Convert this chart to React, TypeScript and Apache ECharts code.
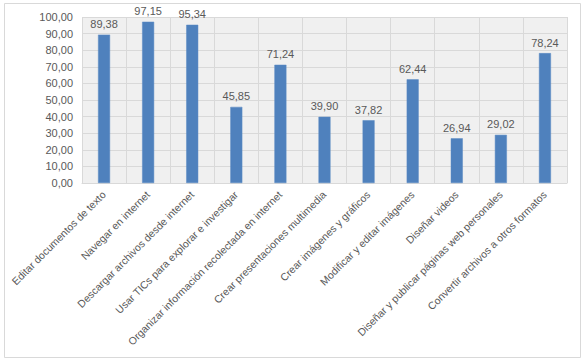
import React, { useEffect, useRef } from "react";
import * as echarts from "echarts";

const categories = [
  "Editar documentos de texto",
  "Navegar en internet",
  "Descargar archivos desde internet",
  "Usar TICs para explorar e investigar",
  "Organizar información recolectada en internet",
  "Crear presentaciones multimedia",
  "Crear imágenes y gráficos",
  "Modificar y editar imágenes",
  "Diseñar videos",
  "Diseñar y publicar páginas web personales",
  "Convertir archivos a otros formatos",
];
const values = [89.38, 97.15, 95.34, 45.85, 71.24, 39.9, 37.82, 62.44, 26.94, 29.02, 78.24];
const yMin = 0;
const yMax = 100;
const yInterval = 10;

const fmt = (v: number) => v.toFixed(2).replace(".", ",");

export default function App() {
  const ref = useRef<HTMLDivElement>(null);
  useEffect(() => {
    if (!ref.current) return;
    const chart = echarts.init(ref.current, undefined, { renderer: "svg" });
    const font = "'Liberation Sans', Arial, sans-serif";
    chart.setOption({
      animation: false,
      backgroundColor: "#ffffff",
      graphic: [
        {
          type: "rect",
          shape: { x: 4.5, y: 3.5, width: 576, height: 354 },
          style: { fill: "none", stroke: "#d9d9d9", lineWidth: 1 },
          silent: true,
        },
      ],
      grid: {
        left: 82,
        right: 19,
        top: 17,
        bottom: 181,
        show: true,
        backgroundColor: "#f0f0f0",
        borderWidth: 0,
      },
      xAxis: {
        type: "category",
        data: categories,
        axisLine: { show: true, lineStyle: { color: "#d9d9d9" } },
        axisTick: { show: false },
        splitLine: { show: true, lineStyle: { color: "#d9d9d9", width: 1 } },
        axisLabel: {
          interval: 0,
          rotate: 45,
          color: "#595959",
          fontSize: 10.5,
          fontFamily: font,
          margin: 10,
        },
      },
      yAxis: {
        type: "value",
        min: yMin,
        max: yMax,
        interval: yInterval,
        axisLine: { show: false },
        axisTick: { show: false },
        splitLine: { show: true, lineStyle: { color: "#d9d9d9", width: 1 } },
        axisLabel: {
          color: "#595959",
          fontSize: 11,
          fontFamily: font,
          margin: 9,
          formatter: (v: number) => fmt(v),
        },
      },
      series: [
        {
          type: "bar",
          data: values,
          barWidth: 12,
          itemStyle: { color: "#4F81BD", borderColor: "#5b8ac4", borderWidth: 0.5 },
          label: {
            show: true,
            position: "top",
            distance: 5,
            color: "#595959",
            fontSize: 11,
            fontFamily: font,
            formatter: (p: any) => fmt(p.value),
          },
        },
      ],
    });
    return () => chart.dispose();
  }, []);
  return (
    <div
      ref={ref}
      style={{ position: "fixed", left: 0, top: 0, width: 586, height: 364 }}
    />
  );
}
